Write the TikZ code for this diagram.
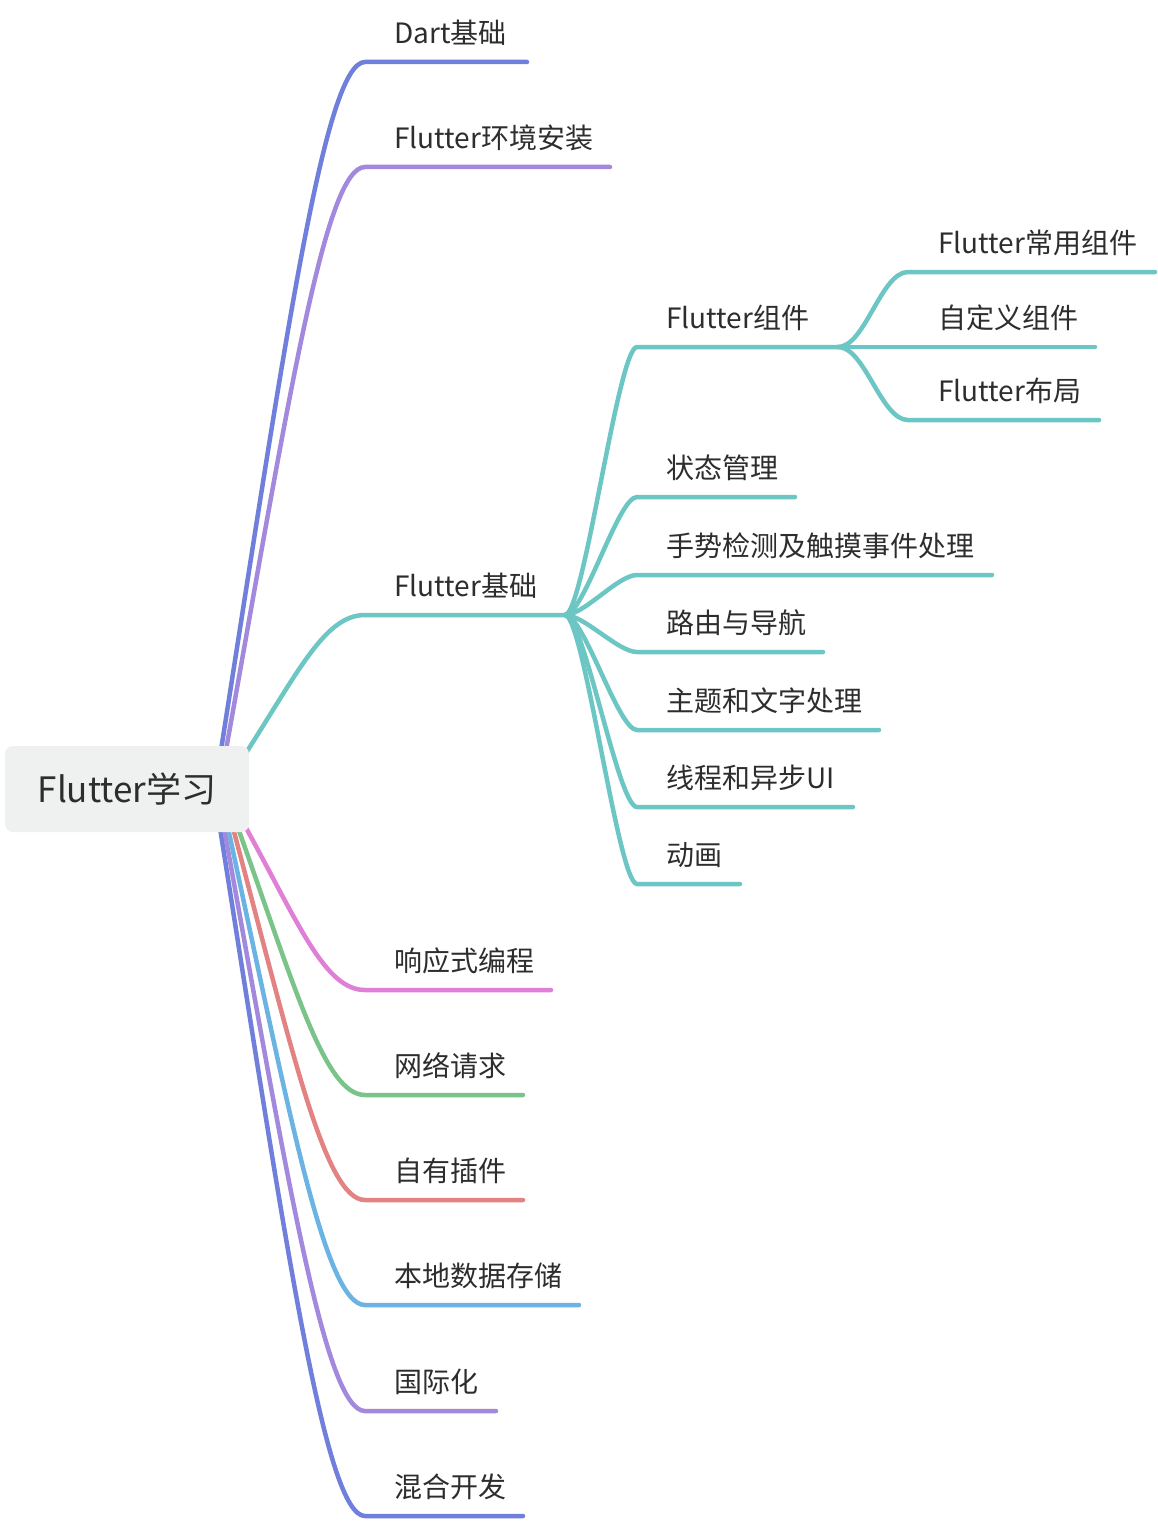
\documentclass[tikz,border=0pt]{standalone}
\usepackage{fontspec}
\setmainfont{Noto Sans CJK SC}
\definecolor{cBlue}{RGB}{111,127,219}
\definecolor{cPurple}{RGB}{163,137,221}
\definecolor{cTeal}{RGB}{108,198,196}
\definecolor{cPink}{RGB}{224,127,214}
\definecolor{cGreen}{RGB}{122,196,138}
\definecolor{cRed}{RGB}{227,130,130}
\definecolor{cLight}{RGB}{106,179,227}
\definecolor{cTxt}{RGB}{45,45,45}
\definecolor{cBox}{RGB}{239,240,240}
\begin{document}
\begin{tikzpicture}[x=1pt,y=-1pt,
  br/.style={line width=4.5pt,line cap=round,draw=#1},
  lbl/.style={anchor=base west,inner sep=0pt,text=cTxt,font=\fontsize{28}{34}\selectfont},
  rootbox/.style={fill=cBox,rounded corners=8pt,minimum width=244pt,minimum height=86pt,inner sep=0pt,text=cTxt,font=\fontsize{35}{42}\selectfont}]
\path[use as bounding box,fill=white] (0,0) rectangle (1158,1522);
% level-1 anchor points
\foreach \n/\y/\e in {1/62/527,2/167/610,3/615/565,4/990/551,5/1095/523,6/1200/523,7/1305/579,8/1411/496,9/1516/523}{
  \coordinate (a\n) at (365,\y);
  \coordinate (b\n) at (\e,\y);
}
% start points of level-1 branches (at the edge of the root box)
\coordinate (s1) at (221,750);
\coordinate (s2) at (226,750);
\coordinate (s3) at (244,756);
\coordinate (s4) at (245,826);
\coordinate (s5) at (238,828);
\coordinate (s6) at (233,828);
\coordinate (s7) at (228,828);
\coordinate (s8) at (224,828);
\coordinate (s9) at (220,828);
% level-2 anchor points (children of Flutter基础)
\coordinate (j2) at (b3);
\foreach \n/\y/\e in {1/347/838,2/497/795,3/575/992,4/652/823,5/730/879,6/807/853,7/884/740}{
  \coordinate (p\n) at (637,\y);
  \coordinate (q\n) at (\e,\y);
}
% level-3 anchor points (children of Flutter组件)
\coordinate (j3) at (q1);
\coordinate (u1) at (908,272);
\coordinate (v1) at (1155,272);
\coordinate (v2) at (1095,347);
\coordinate (u3) at (908,420);
\coordinate (v3) at (1099,420);

% level-1 branches
\draw[br=cBlue]   (s1) .. controls (285.8,337.2) and (325,62) .. (a1) -- (b1);
\draw[br=cPurple] (s2) .. controls (288.6,400.2) and (325,167) .. (a2) -- (b2);
\draw[br=cTeal]   (s3) .. controls (298.5,671.4) and (325,615) .. (a3) -- (b3);
\draw[br=cBlue]   (s9) .. controls (285.3,1240.8) and (325,1516) .. (a9) -- (b9);
\draw[br=cPurple] (s8) .. controls (287.5,1177.8) and (325,1411) .. (a8) -- (b8);
\draw[br=cLight]  (s7) .. controls (289.7,1114.2) and (325,1305) .. (a7) -- (b7);
\draw[br=cRed]    (s6) .. controls (292.4,1051.2) and (325,1200) .. (a6) -- (b6);
\draw[br=cGreen]  (s5) .. controls (295.2,988.2) and (325,1095) .. (a5) -- (b5);
\draw[br=cPink]   (s4) .. controls (299,924.4) and (325,990) .. (a4) -- (b4);

% level-2 branches
\foreach \n in {1,...,7}{
  \draw[br=cTeal] (j2) .. controls +(19,0) and +(-19,0) .. (p\n) -- (q\n);
}
% level-3 branches
\draw[br=cTeal] (j3) .. controls +(27,0) and +(-27,0) .. (u1) -- (v1);
\draw[br=cTeal] (j3) -- (v2);
\draw[br=cTeal] (j3) .. controls +(27,0) and +(-27,0) .. (u3) -- (v3);

% root
\node[rootbox] (root) at (127,789) {Flutter学习};

% level-1 labels
\node[lbl] (n1) at (394,43.5) {Dart基础};
\node[lbl] (n2) at (394,148.5) {Flutter环境安装};
\node[lbl] (n3) at (394,596.5) {Flutter基础};
\node[lbl] (n4) at (394,971.5) {响应式编程};
\node[lbl] (n5) at (394,1076.5) {网络请求};
\node[lbl] (n6) at (394,1181.5) {自有插件};
\node[lbl] (n7) at (394,1286.5) {本地数据存储};
\node[lbl] (n8) at (394,1392.5) {国际化};
\node[lbl] (n9) at (394,1497.5) {混合开发};
% level-2 labels
\node[lbl] (m1) at (666,328.5) {Flutter组件};
\node[lbl] (m2) at (666,478.5) {状态管理};
\node[lbl] (m3) at (666,556.5) {手势检测及触摸事件处理};
\node[lbl] (m4) at (666,633.5) {路由与导航};
\node[lbl] (m5) at (666,711.5) {主题和文字处理};
\node[lbl] (m6) at (666,788.5) {线程和异步UI};
\node[lbl] (m7) at (666,865.5) {动画};
% level-3 labels
\node[lbl] (k1) at (938,253.5) {Flutter常用组件};
\node[lbl] (k2) at (938,328.5) {自定义组件};
\node[lbl] (k3) at (938,401.5) {Flutter布局};
\end{tikzpicture}
\end{document}
